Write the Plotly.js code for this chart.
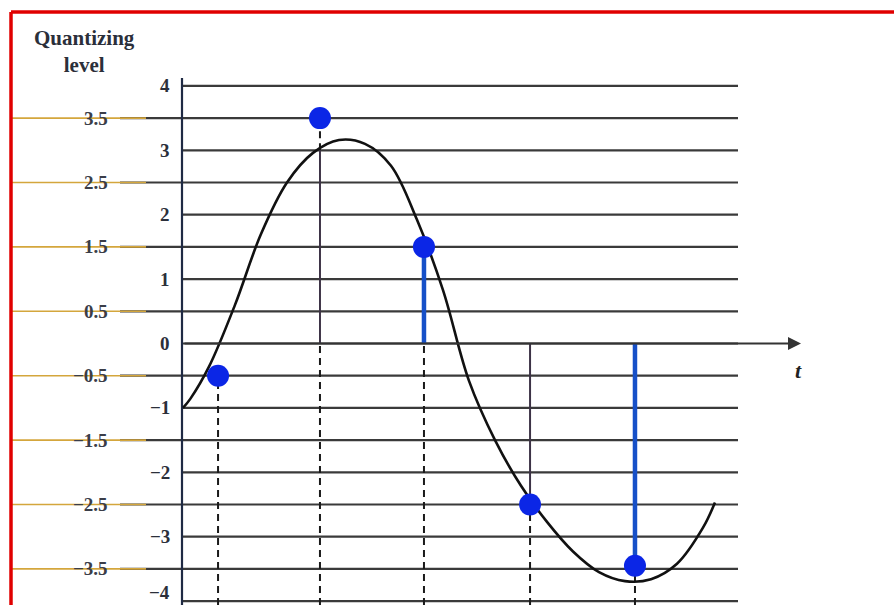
<!DOCTYPE html>
<html>
<head>
<meta charset="utf-8">
<script src="https://cdn.plot.ly/plotly-3.0.1.min.js"></script>
<style>html,body{margin:0;padding:0;background:#fff;}#chart{width:894px;height:605px;}</style>
</head>
<body>
<div id="chart"></div>
<script>
// ---- data ----
const curveT = [0, 0.07, 0.25, 0.5, 0.75, 1.0, 1.25, 1.5, 1.75, 2.0, 2.25, 2.5, 2.75, 3.0, 3.25, 3.5, 3.75, 4.0, 4.25, 4.5, 4.75, 5.0, 5.115];
const curveV = [-1.0, -0.86, -0.36, 0.6, 1.7, 2.5, 2.96, 3.16, 3.1, 2.76, 1.92, 0.83, -0.58, -1.5, -2.21, -2.77, -3.23, -3.55, -3.69, -3.66, -3.42, -2.86, -2.47];
const sampleT = [0.337, 1.317, 2.317, 3.337, 4.346];
const sampleActual = [-0.13, 3.0, 1.6, -2.42, -3.7];
const sampleQuant = [-0.5, 3.5, 1.5, -2.5, -3.45];
const intLevels = [4, 3, 2, 1, 0, -1, -2, -3, -4];
const halfLevels = [3.5, 2.5, 1.5, 0.5, -0.5, -1.5, -2.5, -3.5];
const intLabels = ["4", "3", "2", "1", "0", "\u22121", "\u22122", "\u22123", "\u22124"];
const halfLabels = ["3.5", "2.5", "1.5", "0.5", "\u22120.5", "\u22121.5", "\u22122.5", "\u22123.5"];
const yTitle = "Quantizing<br>level";
const tLabel = "t";

// ---- pixel helpers (layout only) ----
const W = 894, H = 605;
const X0 = 183, PXT = 104, Y0 = 343.5, PXV = 64.4;
const tx = px => (px - X0) / PXT;
const vy = py => (Y0 - py) / PXV;
const xMin = tx(0), xMax = tx(W), yMax = vy(0), yMin = vy(H);

const shapes = [];
const gridColor = '#3a3a3a';
intLevels.forEach(v => shapes.push({type:'line', layer:'below', x0:tx(183), x1:tx(738), y0:v, y1:v, line:{color:gridColor, width:2.2}}));
halfLevels.forEach(v => {
  shapes.push({type:'line', layer:'below', x0:tx(120), x1:tx(738), y0:v, y1:v, line:{color:gridColor, width:2.2}});
  shapes.push({type:'line', layer:'below', x0:tx(12), x1:tx(146), y0:v, y1:v, line:{color:'#d4a63c', width:1.6}});
});
// vertical axis
shapes.push({type:'line', layer:'below', x0:tx(182), x1:tx(182), y0:vy(78), y1:yMin, line:{color:'#1f2a44', width:2.2}});
// red frame
shapes.push({type:'line', xref:'paper', yref:'paper', x0:11/W, x1:1, y0:1-12/H, y1:1-12/H, line:{color:'#e00000', width:3.5}});
shapes.push({type:'line', xref:'paper', yref:'paper', x0:11/W, x1:11/W, y0:1-12/H, y1:0, line:{color:'#e00000', width:3.5}});

const traces = [];
const dash = {color:'#1a1a1a', width:2, dash:'7px,5px'};
const blueStems = new Set([2, 4]);
sampleT.forEach((t, i) => {
  const q = sampleQuant[i], a = sampleActual[i];
  const dTop = q < 0 ? q : 0;
  traces.push({x:[t, t], y:[yMin, dTop], mode:'lines', line:dash, hoverinfo:'skip', showlegend:false});
  if (q > a && a > 0) traces.push({x:[t, t], y:[a, q], mode:'lines', line:dash, hoverinfo:'skip', showlegend:false});
  if (blueStems.has(i)) {
    traces.push({x:[t, t], y:[0, q], mode:'lines', line:{color:'#1650c8', width:4.5}, hoverinfo:'skip', showlegend:false});
  } else if (i > 0) {
    traces.push({x:[t, t], y:[0, a], mode:'lines', line:{color:'#3d3346', width:2}, hoverinfo:'skip', showlegend:false});
  }
});
traces.push({x:curveT, y:curveV, mode:'lines', line:{color:'#111', width:2.6, shape:'spline', smoothing:1}, hoverinfo:'skip', showlegend:false});
traces.push({x:sampleT, y:sampleQuant, mode:'markers', marker:{color:'#0b26e6', size:22}, hoverinfo:'skip', showlegend:false});

const font = 'Liberation Serif, Times New Roman, serif';
const txtColor = '#2b2f3a';
const annotations = [];
intLevels.forEach((v, i) => {
  const last = i === intLevels.length - 1;
  annotations.push({x:tx(172), y:last ? yMin : v, xanchor:'right', yanchor:last ? 'bottom' : 'middle', text:'<b>'+intLabels[i]+'</b>', showarrow:false, font:{family:font, size:19, color:txtColor}});
});
halfLevels.forEach((v, i) => annotations.push({x:tx(110), y:v, xanchor:'right', yanchor:'middle', text:'<b>'+halfLabels[i]+'</b>', showarrow:false, font:{family:font, size:19, color:'#3a3d48'}}));
annotations.push({xref:'paper', yref:'paper', x:84/W, y:1-52/H, xanchor:'center', yanchor:'middle', text:'<b>'+yTitle+'</b>', showarrow:false, font:{family:font, size:21, color:txtColor}});
annotations.push({x:tx(798), y:vy(370), text:'<b><i>'+tLabel+'</i></b>', showarrow:false, font:{family:font, size:22, color:'#222'}});
// time axis arrow
annotations.push({x:tx(801), y:0, ax:tx(183), ay:0, axref:'x', ayref:'y', text:'', showarrow:true, arrowhead:2, arrowsize:1.3, arrowwidth:2, arrowcolor:'#333', standoff:0});

const layout = {
  width:W, height:H, margin:{l:0, r:0, t:0, b:0},
  paper_bgcolor:'#ffffff', plot_bgcolor:'#ffffff',
  xaxis:{range:[xMin, xMax], visible:false, fixedrange:true},
  yaxis:{range:[yMin, yMax], visible:false, fixedrange:true},
  shapes:shapes, annotations:annotations, showlegend:false
};
Plotly.newPlot('chart', traces, layout, {displayModeBar:false, staticPlot:true});
</script>
</body>
</html>
